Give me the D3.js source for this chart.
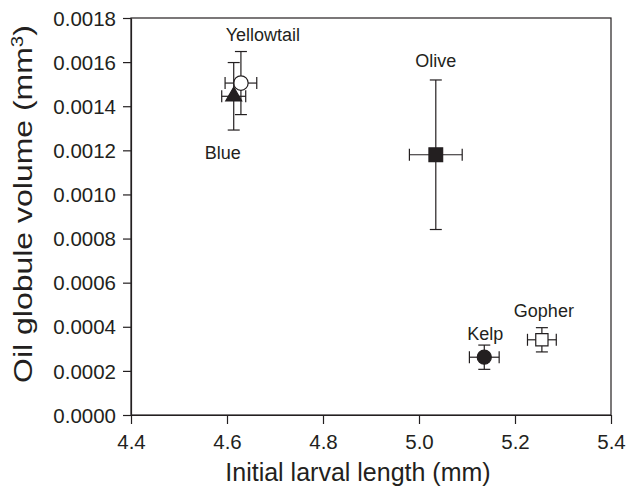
<!DOCTYPE html>
<html>
<head>
<meta charset="utf-8">
<script src="https://cdn.jsdelivr.net/npm/d3@7"></script>
<style>
  html, body { margin: 0; padding: 0; background: #fff; }
  svg { display: block; }
  text { font-family: "Liberation Sans", Arial, Helvetica, sans-serif; fill: #231f20; }
</style>
</head>
<body>
<svg id="chart" width="630" height="489"></svg>
<script>
// ---- data ----
const species   = ["Yellowtail", "Blue", "Olive", "Kelp", "Gopher"];
const lengthMm  = [4.629, 4.614, 5.035, 5.136, 5.256];
const lengthErr = [0.033, 0.025, 0.055, 0.031, 0.030];
const volume    = [0.001505, 0.001445, 0.001180, 0.000262, 0.000341];
const volumeErr = [0.000143, 0.000153, 0.000339, 0.000055, 0.000055];
const xTicks = [4.4, 4.6, 4.8, 5.0, 5.2, 5.4];
const yTicks = [0, 0.0002, 0.0004, 0.0006, 0.0008, 0.0010, 0.0012, 0.0014, 0.0016, 0.0018];

// ---- styles (kept apart from data) ----
const markerShape = ["circle", "triangle", "square", "circle", "square"];
const markerFill  = ["#ffffff", "#231f20", "#231f20", "#231f20", "#ffffff"];
const markerSize  = [165, 110, 188, 155, 150];
const labelOffset = [[22, -42], [-11, 63], [0, -88], [1, -17], [2, -23]]; // px relative to marker centre

const ink = "#231f20";
const svg = d3.select("#chart");
const mLeft = 131, mRight = 611, mTop = 18, mBottom = 415;

const x = d3.scaleLinear().domain([4.4, 5.4]).range([mLeft, mRight]);
const y = d3.scaleLinear().domain([0, 0.0018]).range([mBottom, mTop]);

// frame
svg.append("rect")
  .attr("x", mLeft).attr("y", mTop)
  .attr("width", mRight - mLeft).attr("height", mBottom - mTop)
  .attr("fill", "none").attr("stroke", ink).attr("stroke-width", 1.2);

// axes
const xAxis = svg.append("g")
  .attr("transform", `translate(0,${mBottom})`)
  .call(d3.axisBottom(x).tickValues(xTicks).tickFormat(d3.format(".1f")).tickSize(9).tickSizeOuter(0));
xAxis.select(".domain").attr("stroke", ink).attr("stroke-width", 1.2);
xAxis.selectAll(".tick line").attr("stroke", ink).attr("stroke-width", 1.2);
xAxis.selectAll(".tick text")
  .attr("y", 19.5).attr("dy", "0.71em")
  .style("font-size", "20.5px").style("font-family", "'Liberation Sans', Arial, sans-serif").attr("fill", ink);

const yAxis = svg.append("g")
  .attr("transform", `translate(${mLeft},0)`)
  .call(d3.axisLeft(y).tickValues(yTicks).tickFormat(d3.format(".4f")).tickSize(8).tickSizeOuter(0));
yAxis.select(".domain").attr("stroke", ink).attr("stroke-width", 1.2);
yAxis.selectAll(".tick line").attr("stroke", ink).attr("stroke-width", 1.2);
yAxis.selectAll(".tick text")
  .attr("x", -15).attr("dy", "0.35em")
  .style("font-size", "20.5px").style("font-family", "'Liberation Sans', Arial, sans-serif").attr("fill", ink);

// axis titles
svg.append("text")
  .attr("x", 358).attr("y", 481)
  .attr("text-anchor", "middle")
  .style("font-size", "25px")
  .text("Initial larval length (mm)");

const yTitle = svg.append("text")
  .attr("text-anchor", "middle")
  .style("font-size", "25px");
yTitle.append("tspan").text("Oil globule volume (mm");
yTitle.append("tspan").attr("dy", -9).style("font-size", "16px").text("3");
yTitle.append("tspan").attr("dy", 9).text(")");
const yTitleLen = yTitle.node().getComputedTextLength();
const yTitleScale = 358 / yTitleLen;
yTitle.attr("transform", `translate(32,204) rotate(-90) scale(${yTitleScale},1)`);

// points with error bars
const cap = 6;
const idx = d3.range(species.length);
const g = svg.append("g");
idx.forEach(i => {
  const cx = x(lengthMm[i]), cy = y(volume[i]);
  const x0 = x(lengthMm[i] - lengthErr[i]), x1 = x(lengthMm[i] + lengthErr[i]);
  const y0 = y(volume[i] - volumeErr[i]), y1 = y(volume[i] + volumeErr[i]);
  const eb = g.append("g").attr("stroke", ink).attr("stroke-width", 1.2).attr("fill", "none");
  eb.append("line").attr("x1", cx).attr("x2", cx).attr("y1", y0).attr("y2", y1);
  eb.append("line").attr("x1", cx - cap).attr("x2", cx + cap).attr("y1", y0).attr("y2", y0);
  eb.append("line").attr("x1", cx - cap).attr("x2", cx + cap).attr("y1", y1).attr("y2", y1);
  eb.append("line").attr("x1", x0).attr("x2", x1).attr("y1", cy).attr("y2", cy);
  eb.append("line").attr("x1", x0).attr("x2", x0).attr("y1", cy - cap).attr("y2", cy + cap);
  eb.append("line").attr("x1", x1).attr("x2", x1).attr("y1", cy - cap).attr("y2", cy + cap);

  const type = markerShape[i] === "circle" ? d3.symbolCircle
             : markerShape[i] === "triangle" ? d3.symbolTriangle : d3.symbolSquare;
  g.append("path")
    .attr("d", d3.symbol().type(type).size(markerSize[i])())
    .attr("transform", `translate(${cx},${cy})`)
    .attr("fill", markerFill[i])
    .attr("stroke", ink).attr("stroke-width", 1.2);

  svg.append("text")
    .attr("x", cx + labelOffset[i][0]).attr("y", cy + labelOffset[i][1])
    .attr("text-anchor", "middle")
    .style("font-size", "18px")
    .text(species[i]);
});
</script>
</body>
</html>
